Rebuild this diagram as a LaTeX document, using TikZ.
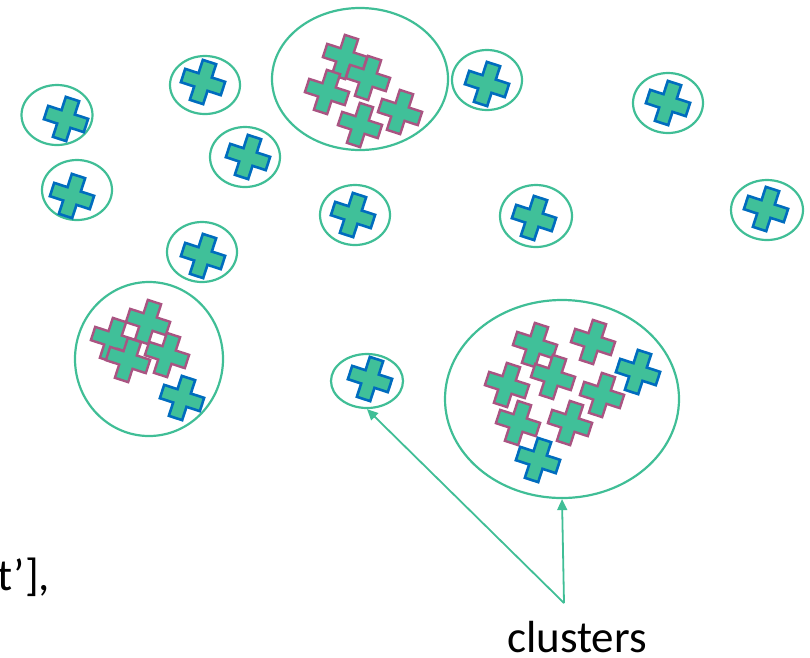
\documentclass[tikz,border=0pt]{standalone}
\usepackage{fontspec}
\setmainfont{Carlito}
\usetikzlibrary{shapes.geometric,arrows.meta}
\definecolor{plusgreen}{RGB}{64,192,153}
\definecolor{ringgreen}{RGB}{64,190,150}
\definecolor{plusblue}{RGB}{0,108,190}
\definecolor{pluspink}{RGB}{170,84,130}
\tikzset{
  ring/.style={ellipse, draw=ringgreen, line width=2.2pt, inner sep=0pt},
  link/.style={draw=ringgreen, line width=1.8pt, -{Triangle[length=11pt,width=10pt]}},
  pics/plusshape/.style={code={
    \path[pic actions, line join=miter, rotate=-18]
      (-7,-21) -- (7,-21) -- (7,-7) -- (21,-7) -- (21,7) -- (7,7) -- (7,21)
      -- (-7,21) -- (-7,7) -- (-21,7) -- (-21,-7) -- (-7,-7) -- cycle;
  }},
  bplus/.style={fill=plusgreen, draw=plusblue, line width=2.6pt},
  pplus/.style={fill=plusgreen, draw=pluspink, line width=2.4pt},
  lbl/.style={font=\fontsize{45}{54}\selectfont, inner sep=0pt}
}
\begin{document}
\begin{tikzpicture}[x=1pt,y=-1pt]
\useasboundingbox (0,0) rectangle (810,657);
% small rings
\node[ring, minimum width=71pt, minimum height=60pt] (r1) at (57,115) {};
\node[ring, minimum width=70pt, minimum height=58pt] (r2) at (205,85) {};
\node[ring, minimum width=70pt, minimum height=60pt] (r3) at (77,190) {};
\node[ring, minimum width=70pt, minimum height=60pt] (r4) at (245,157) {};
\node[ring, minimum width=70pt, minimum height=60pt] (r5) at (355,215) {};
\node[ring, minimum width=70pt, minimum height=60pt] (r6) at (202,252) {};
\node[ring, minimum width=70pt, minimum height=60pt] (r7) at (487,80) {};
\node[ring, minimum width=70pt, minimum height=60pt] (r8) at (668,103) {};
\node[ring, minimum width=72pt, minimum height=62pt] (r9) at (536,216) {};
\node[ring, minimum width=72pt, minimum height=60pt] (r10) at (767,210) {};
\node[ring, minimum width=72pt, minimum height=54pt] (r11) at (367,381) {};
% big rings
\node[ring, minimum width=176pt, minimum height=142pt] (ca) at (360,79) {};
\node[ring, minimum width=148pt, minimum height=154pt] (cb) at (149,359) {};
\node[ring, minimum width=234pt, minimum height=198pt] (cc) at (562,399) {};
% single blue pluses
\pic[bplus] at (66,119) {plusshape};
\pic[bplus] at (203,82) {plusshape};
\pic[bplus] at (72,196) {plusshape};
\pic[bplus] at (248,157) {plusshape};
\pic[bplus] at (353,215) {plusshape};
\pic[bplus] at (203,256) {plusshape};
\pic[bplus] at (487,84) {plusshape};
\pic[bplus] at (668,103) {plusshape};
\pic[bplus] at (534,218) {plusshape};
\pic[bplus] at (766,209) {plusshape};
\pic[bplus] at (370,379) {plusshape};
% cluster A
\pic[pplus] at (345,57) {plusshape};
\pic[pplus] at (368,78) {plusshape};
\pic[pplus] at (327,92) {plusshape};
\pic[pplus] at (400,112) {plusshape};
\pic[pplus] at (360,125) {plusshape};
% cluster B
\pic[pplus] at (148,322) {plusshape};
\pic[pplus] at (113,340) {plusshape};
\pic[pplus] at (167,355) {plusshape};
\pic[pplus] at (128,360) {plusshape};
\pic[bplus] at (182,398) {plusshape};
% cluster C
\pic[pplus] at (535,345) {plusshape};
\pic[pplus] at (593,342) {plusshape};
\pic[pplus] at (507,385) {plusshape};
\pic[pplus] at (553,377) {plusshape};
\pic[pplus] at (602,395) {plusshape};
\pic[pplus] at (518,423) {plusshape};
\pic[pplus] at (570,423) {plusshape};
\pic[bplus] at (638,372) {plusshape};
\pic[bplus] at (538,460) {plusshape};
% labels
\node[lbl, anchor=base west] (clus) at (507,652) {clusters};
\node[lbl, anchor=base west] (frag) at (-3,590) {t’],};
\coordinate (apex) at (564,603);
\draw[link] (apex) -- (r11.south);
\draw[link] (apex) -- (cc.south);
\end{tikzpicture}
\end{document}
